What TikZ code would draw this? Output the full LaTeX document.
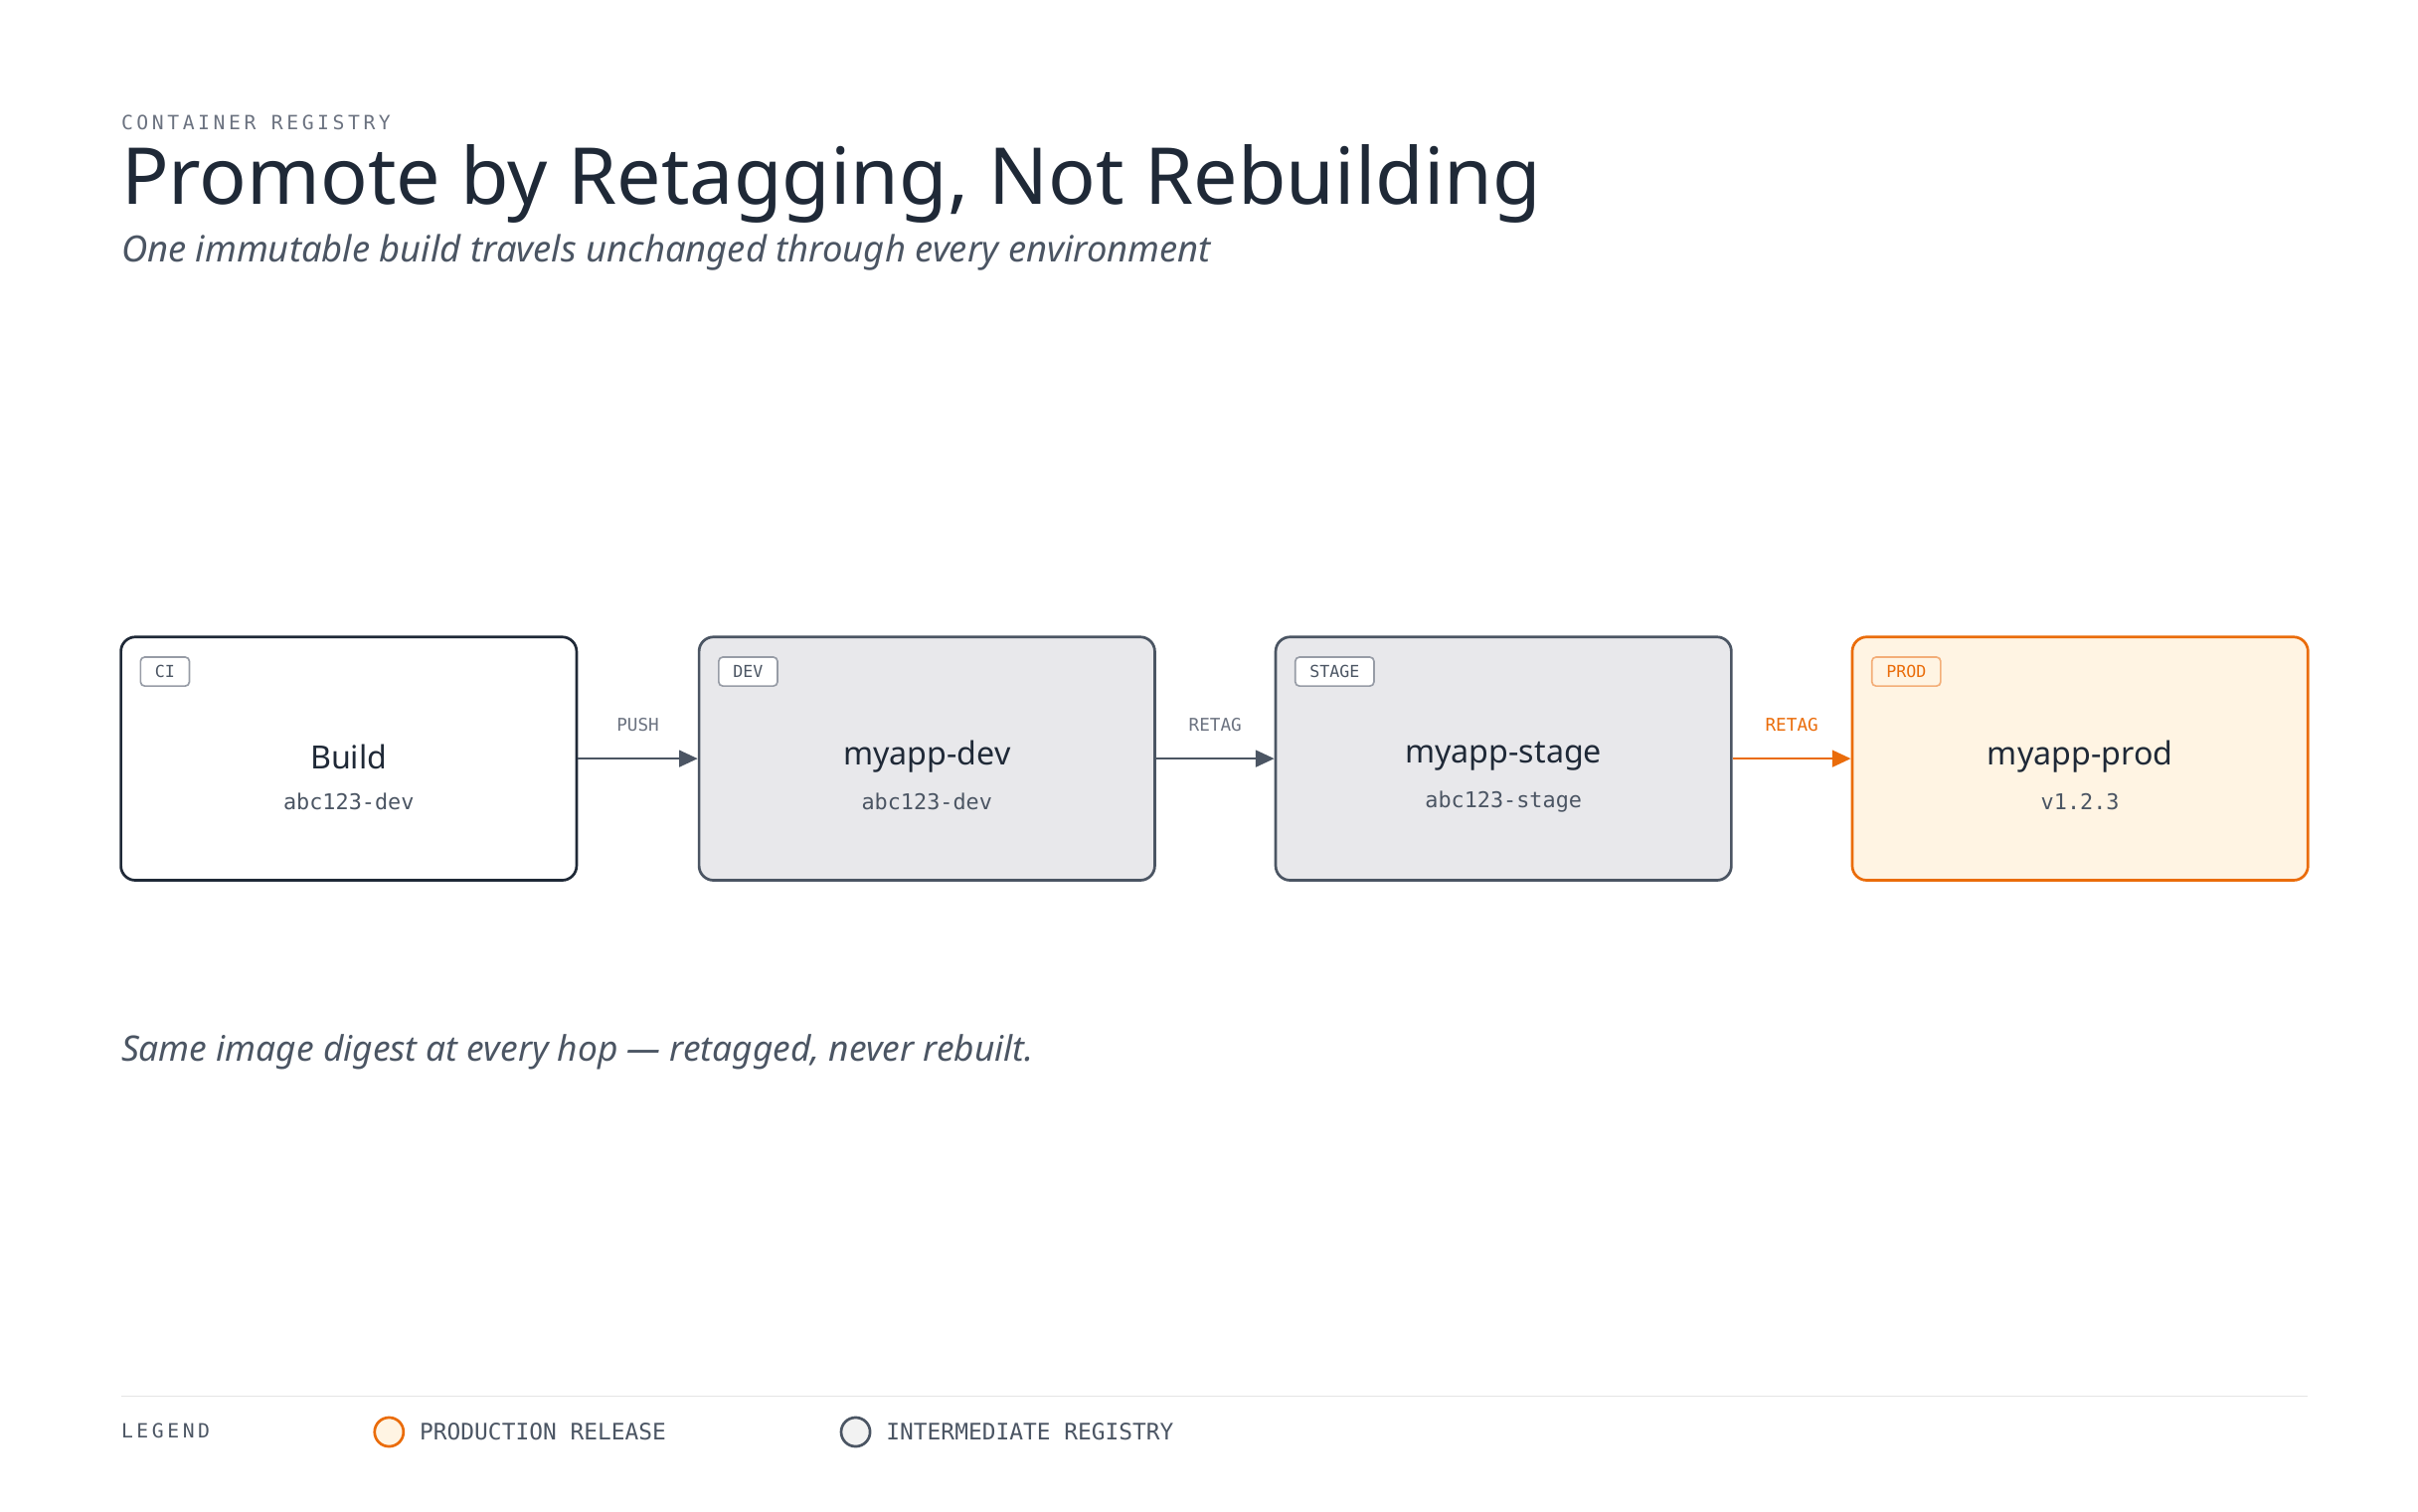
\documentclass[tikz,border=0pt]{standalone}
\usepackage{fontspec}
\setmainfont{Noto Sans}
\newfontfamily\monofont{DejaVu Sans Mono}
\newfontfamily\widemono[LetterSpace=18]{DejaVu Sans Mono}
\usetikzlibrary{positioning,arrows.meta}
\definecolor{ink}{HTML}{1F2937}
\definecolor{slate}{HTML}{4B5563}
\definecolor{mute}{HTML}{6B7280}
\definecolor{regfill}{HTML}{E8E8EB}
\definecolor{prodorange}{HTML}{EA6C0A}
\definecolor{prodfill}{HTML}{FFF4E3}
\begin{document}
\begin{tikzpicture}[x=0.75pt,y=-0.75pt,
  stage/.style={draw=slate,fill=regfill,line width=1.3pt,rounded corners=7pt,
    minimum width=220.5pt,minimum height=117.75pt,inner sep=0pt},
  badge/.style={draw=mute!70,fill=white,line width=0.8pt,rounded corners=2pt,
    font=\monofont\fontsize{8}{9}\selectfont,text=slate,inner xsep=7pt,
    minimum height=14pt,anchor=north west},
  title/.style={font=\fontsize{15.5}{18}\selectfont\bfseries,text=ink},
  tag/.style={font=\monofont\fontsize{10.5}{12}\selectfont,text=slate},
  hop/.style={-{Triangle[length=9pt,width=8pt]},line width=1.3pt,draw=slate},
  hoplabel/.style={font=\monofont\fontsize{8.5}{10}\selectfont,text=mute}]
\useasboundingbox (0,0) rectangle (1560,975);
% header
\node[anchor=base west,inner sep=0pt,text=mute,font=\widemono\fontsize{9.5}{11}\selectfont] (kicker) at (78,84) {CONTAINER REGISTRY};
\node[anchor=base west,inner sep=0pt,text=ink,font=\fontsize{38}{44}\selectfont\bfseries] (head) at (78,132) {Promote by Retagging, Not Rebuilding};
\node[anchor=base west,inner sep=0pt,text=slate,font=\fontsize{17.5}{20}\selectfont\itshape] (sub) at (78,169) {One immutable build travels unchanged through every environment};
% stages
\node[stage,draw=ink,fill=white] (build) at (225,489.5) {};
\node[stage] (dev) at (598,489.5) {};
\node[stage] (stg) at (970,489.5) {};
\node[stage,draw=prodorange,fill=prodfill] (prod) at (1342,489.5) {};
\node[badge] at ([xshift=9.75pt,yshift=-10pt]build.north west) {CI};
\node[badge] at ([xshift=9.75pt,yshift=-10pt]dev.north west) {DEV};
\node[badge] at ([xshift=9.75pt,yshift=-10pt]stg.north west) {STAGE};
\node[badge,draw=prodorange!55,fill=prodfill,text=prodorange] at ([xshift=9.75pt,yshift=-10pt]prod.north west) {PROD};
\foreach \n/\t/\g in {build/Build/abc123-dev,dev/myapp-dev/abc123-dev,stg/myapp-stage/abc123-stage,prod/myapp-prod/v1.2.3}{
  \node[title] at ([yshift=1pt]\n.center) {\t};
  \node[tag] at ([yshift=-21pt]\n.center) {\g};
}
% hops
\draw[hop] (build) -- node[hoplabel,above=9pt] {PUSH} (dev);
\draw[hop] (dev) -- node[hoplabel,above=9pt] {RETAG} (stg);
\draw[hop,draw=prodorange] (stg) -- node[hoplabel,above=9pt,text=prodorange] {RETAG} (prod);
% note
\node[anchor=base west,inner sep=0pt,text=slate,font=\fontsize{17}{20}\selectfont\itshape] (note) at (78,685) {Same image digest at every hop — retagged, never rebuilt.};
% legend
\draw[line width=0.8pt,draw=black!10] (78,901) -- (1489,901);
\node[anchor=west,inner sep=0pt,text=slate,font=\widemono\fontsize{9.5}{11}\selectfont] (leg) at (78,923) {LEGEND};
\node[circle,draw=prodorange,fill=prodfill,line width=1.3pt,minimum size=14pt,inner sep=0pt] (lp) at (251,924) {};
\node[anchor=west,inner sep=0pt,text=slate,font=\monofont\fontsize{11}{13}\selectfont,right=7pt of lp] {PRODUCTION RELEASE};
\node[circle,draw=slate,fill=black!5,line width=1.3pt,minimum size=14pt,inner sep=0pt] (li) at (552,924) {};
\node[anchor=west,inner sep=0pt,text=slate,font=\monofont\fontsize{11}{13}\selectfont,right=7pt of li] {INTERMEDIATE REGISTRY};
\end{tikzpicture}
\end{document}
